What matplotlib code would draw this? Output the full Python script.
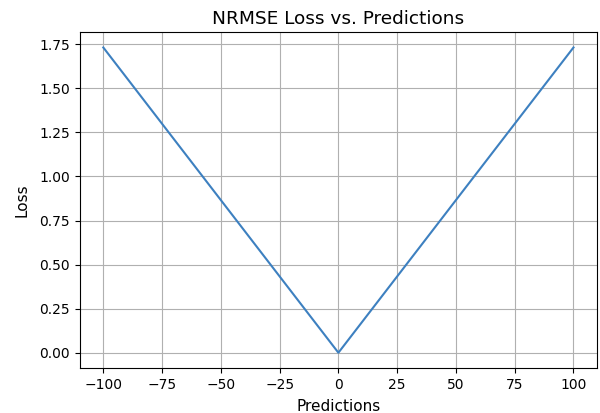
import matplotlib.pyplot as plt

# Predictions and NRMSE loss
predictions = [-100, 0, 100]
loss = [1.732, 0.0, 1.732]

fig, ax = plt.subplots(figsize=(6, 4.13), dpi=100)
ax.plot(predictions, loss, color='#3d80c0', linewidth=1.5)
ax.set_title('NRMSE Loss vs. Predictions', fontsize=13.3)
ax.set_xlabel('Predictions', fontsize=11, labelpad=5)
ax.set_ylabel('Loss', fontsize=11, labelpad=7)
ax.grid(True)
ax.set_xticks([-100, -75, -50, -25, 0, 25, 50, 75, 100])

plt.subplots_adjust(left=0.133, right=0.995, top=0.922, bottom=0.109)
plt.savefig('out.png')
